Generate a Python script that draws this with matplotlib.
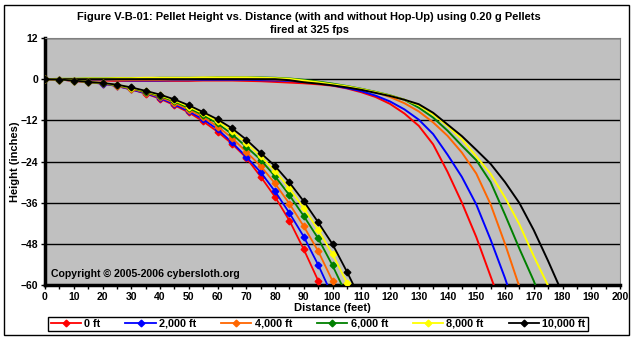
import matplotlib
matplotlib.use("Agg")
import matplotlib.pyplot as plt
from matplotlib.patches import Rectangle
from matplotlib.ticker import MultipleLocator

plt.rcParams['font.family'] = ['Liberation Sans', 'DejaVu Sans']
plt.rcParams['font.weight'] = 'bold'

# ---- data ----
altitudes = ["0 ft", "2,000 ft", "4,000 ft", "6,000 ft", "8,000 ft", "10,000 ft"]
colors = ["#FF0000", "#0000FF", "#FF6600", "#008000", "#FFFF00", "#000000"]

# without hop-up (markers), x = 0, 5, 10, ...
nohop_x = [0, 5, 10, 15, 20, 25, 30, 35, 40, 45, 50, 55, 60, 65, 70, 75, 80, 85, 90, 95, 100, 105, 110]
red_nh = [0, -0.1, -0.5, -0.9, -1.3, -2.0, -3.0, -4.2, -5.7, -7.6, -9.7, -12.3, -15.3, -18.8, -22.9,
          -28.4, -34.3, -41.2, -49.6, -58.7, -68.5]
blue_nh = [0, -0.1, -0.5, -0.9, -1.3, -2.0, -3.0, -4.1, -5.5, -7.3, -9.4, -11.7, -14.6, -18.4, -22.6,
           -27.1, -32.7, -39.0, -45.9, -54.1, -63.2]
orange_nh = [0, -0.1, -0.5, -0.9, -1.2, -1.9, -2.8, -3.9, -5.2, -6.9, -8.9, -11.1, -13.8, -17.1, -21.2,
             -25.3, -30.4, -36.3, -42.9, -50.1, -58.8, -68.2]
green_nh = [0, -0.1, -0.4, -0.8, -1.2, -1.8, -2.6, -3.7, -4.9, -6.5, -8.4, -10.5, -12.9, -16.0, -19.7,
            -23.5, -28.3, -33.8, -39.9, -46.4, -54.3, -63.1]
yellow_nh = [0, -0.1, -0.4, -0.8, -1.1, -1.7, -2.5, -3.5, -4.7, -6.2, -8.0, -10.0, -12.3, -15.1, -18.6,
             -22.5, -26.7, -31.8, -37.6, -43.9, -51.0, -59.3, -68.3]
black_nh = [0, -0.1, -0.4, -0.8, -1.1, -1.6, -2.4, -3.4, -4.5, -5.9, -7.6, -9.6, -11.7, -14.3, -17.6,
            -21.5, -25.3, -30.1, -35.6, -41.7, -48.1, -56.1, -64.6]

# with hop-up (plain lines), x = 0, 5, 10, ...
hop_x = [0, 5, 10, 15, 20, 25, 30, 35, 40, 45, 50, 55, 60, 65, 70, 75, 80, 85, 90, 95, 100,
         105, 110, 115, 120, 125, 130, 135, 140, 145, 150, 155, 160, 165, 170, 175, 180]
red_h = [0, -0.1, -0.2, -0.3, -0.4, -0.5, -0.5, -0.5, -0.5, -0.5, -0.5, -0.4, -0.4, -0.4, -0.5, -0.6,
         -0.8, -1.0, -1.2, -1.5, -1.9, -2.7, -3.8, -5.2, -7.2, -10.0, -13.6, -19.0, -27.0, -36.0,
         -46.0, -57.5, -69.0]
blue_h = [0, 0, -0.1, -0.2, -0.2, -0.3, -0.4, -0.4, -0.4, -0.3, -0.3, -0.2, -0.2, -0.2, -0.2, -0.3,
          -0.4, -0.5, -0.8, -1.2, -1.8, -2.6, -3.5, -4.8, -6.5, -8.8, -11.8, -16.0, -22.0, -28.5,
          -36.5, -46.8, -58.0, -70.5]
orange_h = [0, 0, -0.1, -0.1, -0.1, -0.2, -0.2, -0.2, -0.2, -0.1, -0.1, 0, 0, 0, 0, 0, -0.1, -0.3,
            -0.6, -1.0, -1.5, -2.2, -2.9, -3.8, -5.2, -7.0, -9.4, -12.6, -16.5, -21.4, -27.5, -36.5,
            -48.0, -60.5, -74.0]
green_h = [0, 0.1, 0.1, 0.2, 0.2, 0.3, 0.3, 0.3, 0.4, 0.4, 0.4, 0.4, 0.5, 0.5, 0.5, 0.5, 0.4, 0.2,
           -0.2, -0.7, -1.3, -2.0, -2.8, -3.7, -4.7, -6.0, -8.3, -11.2, -15.0, -19.4, -23.6, -30.0,
           -39.5, -49.4, -58.8, -70.0]
yellow_h = [0, 0.1, 0.1, 0.2, 0.2, 0.3, 0.3, 0.4, 0.4, 0.4, 0.4, 0.5, 0.5, 0.5, 0.5, 0.4, 0.3, 0.1,
            -0.4, -0.9, -1.5, -2.1, -2.9, -3.8, -4.8, -6.0, -7.6, -10.3, -13.6, -17.5, -22.5, -27.6,
            -34.5, -42.3, -51.6, -60.2, -70.0]
black_h = [0, 0, 0, 0, 0, 0, 0, 0, 0, 0, 0, 0, 0, 0, 0, 0, 0, -0.3, -0.9, -1.3, -1.8, -2.4, -3.1,
           -4.0, -4.9, -6.0, -7.3, -9.8, -13.2, -16.6, -20.6, -24.7, -30.0, -36.1, -44.0, -53.0, -62.5]

nohop = [red_nh, blue_nh, orange_nh, green_nh, yellow_nh, black_nh]
hop = [red_h, blue_h, orange_h, green_h, yellow_h, black_h]

y_ticks = [-60, -48, -36, -24, -12, 0, 12]
x_ticks = list(range(0, 201, 10))

# ---- figure ----
fig = plt.figure(figsize=(6.33, 3.40), dpi=100)
ax = fig.add_axes([45/633, 1-285/340, (620-45)/633, (285-38)/340])
ax.set_facecolor("#C0C0C0")

for ys in y_ticks:
    ax.axhline(ys, color="black", lw=1.0, zorder=1)

handles = []
for name, c, ys in zip(altitudes, colors, hop):
    ax.plot(hop_x[:len(ys)], ys, color=c, lw=1.4, zorder=3, clip_on=True)
for name, c, ys in zip(altitudes, colors, nohop):
    h, = ax.plot(nohop_x[:len(ys)], ys, color=c, lw=1.3, marker='D', ms=3.4,
                 mec=c, mfc=c, zorder=4, clip_on=True, label=name)
    handles.append(h)

ax.set_xlim(0, 200)
ax.set_ylim(-60, 12)
ax.set_yticks(y_ticks)
ax.set_xticks(x_ticks)
ax.xaxis.set_minor_locator(MultipleLocator(5))
ax.tick_params(axis='both', which='both', direction='out', length=3, width=1, labelsize=7.5,
               pad=2)
ax.tick_params(axis='x', which='minor', length=3, width=1)
for lab in ax.get_xticklabels() + ax.get_yticklabels():
    lab.set_fontweight('bold')

for s in ['left', 'bottom']:
    ax.spines[s].set_linewidth(2.5)
    ax.spines[s].set_color('black')
for s in ['top', 'right']:
    ax.spines[s].set_linewidth(0.8)
    ax.spines[s].set_color('#808080')

ax.set_xlabel("Distance (feet)", fontsize=8, fontweight='bold', labelpad=1)
ax.set_ylabel("Height (inches)", fontsize=8, fontweight='bold', labelpad=0.5)

ax.text(2, -58.3, "Copyright \u00a9 2005-2006 cybersloth.org", fontsize=7.6, fontweight='bold',
        ha='left', va='bottom', zorder=6)

fig.text(309/633, 1-17/340, "Figure V-B-01: Pellet Height vs. Distance (with and without Hop-Up) using 0.20 g Pellets",
         ha='center', va='center', fontsize=8.0, fontweight='bold')
fig.text(309/633, 1-30/340, "fired at 325 fps", ha='center', va='center', fontsize=8.0, fontweight='bold')

leg = fig.legend(handles=handles, loc='center', bbox_to_anchor=(318/633, 1-324/340), ncol=6,
                 frameon=True, fancybox=False, edgecolor='black', framealpha=1,
                 fontsize=7.8, handlelength=2.8, columnspacing=2.3, handletextpad=0.3,
                 borderpad=0.2, borderaxespad=0)
leg.get_frame().set_linewidth(1.0)
for t in leg.get_texts():
    t.set_fontweight('bold')

fig.patches.append(Rectangle((4/633, 5/340), 625/633, 330/340, transform=fig.transFigure,
                             fill=False, edgecolor='black', lw=1.0))

fig.savefig("out.png", dpi=100)
